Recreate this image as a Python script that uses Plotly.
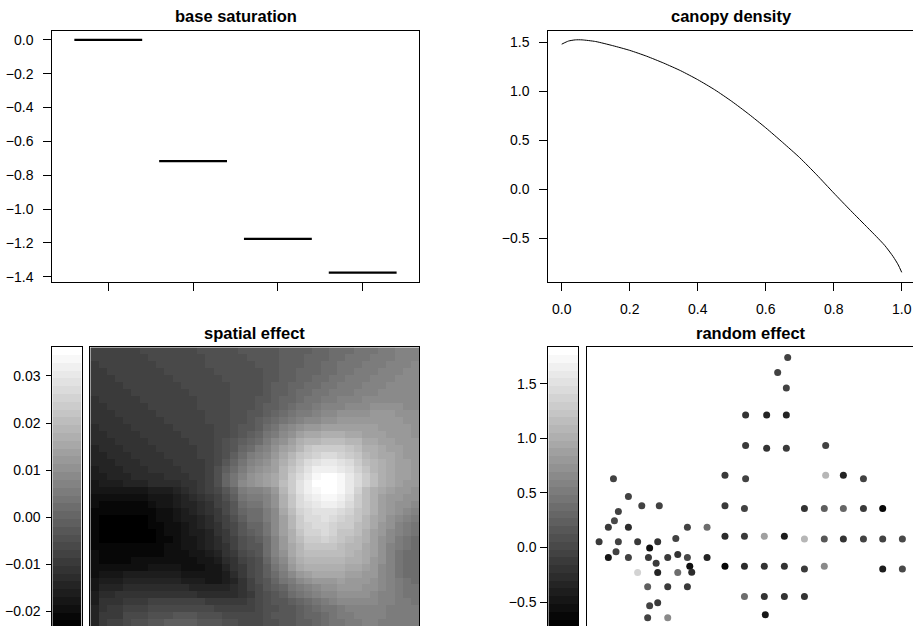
import plotly.graph_objects as go

W, H = 913, 629

# ---------------- data ----------------
base_sat_levels = [1, 2, 3, 4]
base_sat_effect = [0.0, -0.717, -1.176, -1.376]
base_sat_halfwidth = 0.4

canopy_x = [0, 0.02, 0.04, 0.06, 0.1, 0.15, 0.2, 0.25, 0.3, 0.35, 0.4, 0.45, 0.5,
            0.55, 0.6, 0.65, 0.7, 0.75, 0.8, 0.85, 0.9, 0.925, 0.95, 0.975, 0.99, 1.0]
canopy_y = [1.483, 1.515, 1.527, 1.527, 1.510, 1.468, 1.420, 1.360, 1.290, 1.212, 1.121,
            1.018, 0.900, 0.770, 0.630, 0.480, 0.325, 0.150, -0.035, -0.215, -0.390,
            -0.478, -0.570, -0.685, -0.770, -0.845]

spatial_min, spatial_max = -0.0236, 0.0361
spatial_ticks = [-0.02, -0.01, 0.0, 0.01, 0.02, 0.03]
# grey level (0 = black ... 35 = white) of each grid cell, top row first
spatial_grey_levels = [
    [9,9,9,9,9,9,10,10,10,10, 10,10,10,11,11,11,11,11,12,12, 12,12,12,13,13,13,13,14,14,15, 15,15,16,16,16,17,17,18,18,18],
    [9,9,9,9,9,9,9,10,10,10, 10,10,10,10,11,11,11,11,11,12, 12,12,12,13,13,13,14,14,14,15, 15,16,16,16,17,17,17,18,18,18],
    [8,9,9,9,9,9,9,9,10,10, 10,10,10,10,11,11,11,11,11,11, 12,12,12,13,13,13,14,14,15,15, 16,16,16,17,17,17,18,18,18,19],
    [8,8,9,9,9,9,9,9,9,10, 10,10,10,10,10,11,11,11,11,11, 11,12,12,13,13,14,14,14,15,15, 16,16,17,17,17,18,18,18,19,19],
    [8,8,8,9,9,9,9,9,9,9, 10,10,10,10,10,10,11,11,11,11, 11,12,12,13,13,14,14,15,15,16, 16,17,17,17,18,18,18,19,19,19],
    [8,8,8,8,9,9,9,9,9,9, 9,10,10,10,10,10,10,11,11,11, 11,12,13,13,14,14,15,15,16,16, 17,17,17,18,18,18,19,19,19,19],
    [8,8,8,8,8,9,9,9,9,9, 9,9,10,10,10,10,10,11,11,11, 11,12,13,13,14,15,15,16,16,17, 17,17,18,18,18,19,19,19,19,19],
    [7,8,8,8,8,8,9,9,9,9, 9,9,9,10,10,10,10,11,11,11, 12,12,13,14,14,15,16,16,17,17, 18,18,18,19,19,19,19,19,19,19],
    [7,7,8,8,8,8,8,9,9,9, 9,9,9,10,10,10,10,11,11,11, 12,13,13,14,15,16,16,17,18,18, 18,19,19,19,20,20,20,20,19,19],
    [7,7,7,8,8,8,8,8,9,9, 9,9,9,9,10,10,10,11,11,12, 12,13,14,15,16,17,17,18,19,19, 20,20,20,20,21,21,21,20,20,20],
    [7,7,7,7,8,8,8,8,8,9, 9,9,9,9,10,10,10,11,11,12, 13,14,15,16,17,18,19,19,20,20, 21,21,21,21,21,21,21,21,20,20],
    [6,7,7,7,7,8,8,8,8,8, 9,9,9,9,9,10,10,11,12,12, 13,15,16,18,19,20,21,21,22,22, 22,22,22,22,22,21,21,21,21,20],
    [6,6,7,7,7,7,8,8,8,8, 8,9,9,9,9,10,10,11,12,13, 14,16,17,19,20,22,23,23,24,24, 24,23,23,22,22,22,21,21,21,20],
    [6,6,6,7,7,7,7,8,8,8, 8,8,9,9,9,10,11,12,13,14, 15,17,19,20,22,24,25,25,26,26, 26,25,25,23,23,22,22,21,21,21],
    [5,6,6,6,7,7,7,7,8,8, 8,8,8,9,9,10,11,12,14,15, 17,18,20,22,23,25,27,28,28,28, 28,27,26,24,24,23,22,22,21,21],
    [5,5,6,6,6,7,7,7,7,8, 8,8,8,9,9,10,11,13,15,17, 18,19,21,23,25,27,28,29,30,30, 29,28,27,25,24,23,23,22,21,21],
    [5,5,5,6,6,6,7,7,7,7, 8,8,8,8,9,10,12,14,16,18, 19,20,22,24,26,28,30,31,32,32, 31,30,28,26,25,24,23,22,22,21],
    [4,5,5,5,6,6,6,7,7,7, 7,8,8,8,9,11,13,15,17,19, 20,21,22,25,27,29,31,33,33,33, 32,31,29,27,25,24,23,22,22,21],
    [4,4,5,5,5,6,6,6,6,7, 7,7,8,8,9,11,14,16,18,20, 21,22,23,25,28,30,32,34,35,35, 34,32,30,28,26,24,23,22,22,21],
    [3,4,4,4,5,5,5,6,6,6, 6,7,7,8,9,11,14,16,19,20, 21,22,23,26,28,31,33,35,35,35, 34,32,30,28,26,24,23,22,21,21],
    [3,3,3,3,3,3,3,4,4,4, 5,6,7,8,9,10,12,14,17,18, 18,19,21,25,28,31,33,34,35,35, 34,32,29,26,24,23,22,21,21,20],
    [2,2,2,2,2,2,2,3,3,3, 4,5,6,7,8,9,11,13,16,17, 17,18,20,24,27,30,32,33,34,34, 33,31,28,26,24,22,21,21,20,20],
    [2,1,1,1,1,1,1,2,3,3, 4,5,5,6,7,9,10,12,15,16, 16,18,20,24,27,30,31,32,33,33, 32,30,28,26,24,22,21,20,20,19],
    [1,1,1,1,1,1,1,1,2,2, 3,4,5,6,7,8,10,12,14,15, 15,17,19,23,26,29,30,31,31,31, 30,29,27,26,24,22,21,20,19,18],
    [1,0,0,0,0,0,0,1,2,2, 3,4,4,5,6,8,9,11,13,15, 15,17,19,22,25,28,30,30,31,30, 29,28,27,25,23,22,20,19,18,17],
    [1,0,0,0,0,0,0,1,1,2, 2,3,4,5,6,7,9,10,12,14, 14,16,19,22,25,28,29,30,30,29, 28,28,26,25,23,21,20,18,17,16],
    [1,0,0,0,0,0,0,0,1,2, 2,3,4,4,5,7,8,10,12,13, 14,16,19,22,24,27,29,29,30,29, 27,27,26,24,22,21,19,18,17,16],
    [1,0,0,0,0,0,0,0,1,1, 2,3,3,4,5,6,8,9,11,12, 13,15,18,21,24,26,28,28,29,28, 27,26,25,24,22,20,19,17,16,15],
    [1,1,1,1,1,1,1,1,1,2, 2,3,3,4,5,6,7,9,11,12, 12,15,18,21,23,25,27,27,27,27, 26,25,25,23,22,20,18,17,16,15],
    [2,1,1,1,1,1,1,1,1,2, 2,2,3,3,4,5,7,8,10,11, 12,15,18,20,23,25,26,26,26,26, 26,25,24,23,22,20,18,16,15,15],
    [2,1,1,1,1,2,2,2,2,2, 2,2,2,3,3,4,6,7,9,10, 11,14,17,19,22,24,25,25,25,25, 25,24,24,23,21,20,18,16,15,15],
    [2,2,2,2,2,2,2,3,3,3, 3,2,2,2,3,3,5,7,8,10, 11,13,16,18,21,23,24,24,24,24, 24,23,23,22,21,19,18,16,15,15],
    [2,3,3,3,4,4,4,4,4,4, 4,3,3,3,3,3,4,6,8,10, 11,13,15,17,19,21,22,23,23,23, 23,22,22,21,21,19,18,16,15,15],
    [3,4,4,4,5,5,5,5,5,5, 5,4,4,4,3,3,4,5,7,9, 11,12,14,16,17,19,20,21,21,21, 22,21,21,21,20,19,18,17,16,15],
    [3,5,5,5,6,6,6,6,6,6, 6,6,5,5,5,5,5,6,7,9, 10,12,13,14,16,17,18,19,20,20, 21,21,21,20,20,19,18,17,16,16],
    [4,6,6,7,7,7,7,7,7,7, 7,7,7,6,6,6,6,6,7,8, 10,11,12,13,15,16,17,18,19,19, 20,20,20,20,19,18,18,17,16,16],
    [4,7,7,7,8,8,8,9,9,9, 9,9,9,9,8,8,8,8,8,9, 10,11,12,12,13,14,15,16,17,18, 19,19,19,19,19,18,18,17,17,16],
    [5,7,8,8,9,9,9,10,10,10, 10,10,10,10,10,9,9,9,9,9, 10,11,11,12,12,13,14,15,16,16, 17,18,18,18,18,18,17,17,17,17],
    [5,8,8,8,10,10,10,11,11,11, 12,12,12,11,11,11,10,10,10,10, 10,11,12,12,12,13,14,14,15,16, 17,17,18,18,18,18,17,17,17,17],
    [5,8,9,9,10,11,11,12,12,13, 13,13,13,12,12,12,11,11,10,10, 10,11,11,12,12,13,13,14,15,16, 16,17,17,18,18,17,17,17,17,17],
]

re_min, re_max = -0.73, 1.835
re_ticks = [-0.5, 0.0, 0.5, 1.0, 1.5]
re_x = [10.22, 9.71, 10.15, 8.08, 9.15, 10.15, 8.08, 9.15, 10.15, 12.15,
        7.03, 8.08, 12.15, 13.05, 14.07, 7.03, 8.02, 11.07, 12.08, 13.05,
        14.07, 15.05, 7.03, 8.02, 9.03, 10.05, 11.07, 12.08, 13.05, 14.07,
        15.05, 16.05, 7.03, 8.02, 9.03, 10.05, 11.07, 12.08, 15.05, 16.05,
        8.02, 9.03, 10.05, 11.07, 9.08,
        1.36, 2.12, 2.80, 3.69, 1.61, 1.41, 1.10, 2.12, 5.12, 6.12,
        0.63, 1.61, 2.59, 3.61, 4.53, 3.20, 1.49, 1.10, 2.12, 3.14,
        4.12, 4.63, 5.12, 6.12, 3.53, 5.24, 2.59, 3.61, 4.63, 5.34,
        3.10, 4.12, 5.12, 3.61, 3.20, 3.10, 4.12]
re_y = [8.89, 8.40, 7.88, 6.99, 6.99, 6.99, 5.98, 5.89, 5.89, 5.98,
        4.99, 4.88, 4.99, 4.99, 4.88, 3.98, 3.89, 3.89, 3.89, 3.89,
        3.89, 3.89, 2.97, 2.97, 2.97, 2.97, 2.88, 2.88, 2.88, 2.88,
        2.88, 2.88, 1.98, 1.98, 1.98, 1.98, 1.89, 1.98, 1.89, 1.89,
        0.98, 0.98, 0.98, 0.98, 0.37,
        4.88, 4.29, 3.98, 3.98, 3.79, 3.49, 3.27, 3.27, 3.27, 3.27,
        2.79, 2.79, 2.79, 2.79, 2.90, 2.58, 2.46, 2.27, 2.27, 2.27,
        2.27, 2.37, 2.27, 2.27, 2.08, 1.98, 1.77, 1.77, 1.77, 1.78,
        1.30, 1.30, 1.30, 0.77, 0.67, 0.27, 0.27]
re_value = [-0.086, -0.086, -0.046, -0.217, -0.308, -0.308, -0.147, -0.217, -0.147, -0.046,
            -0.147, -0.086, 1.081, -0.308, -0.086, -0.147, -0.086, -0.217, 0.236, 0.276,
            -0.147, -0.629, -0.267, -0.147, 0.879, -0.388, 1.121, 0.175, -0.217, -0.046,
            -0.046, -0.006, -0.599, -0.267, -0.217, -0.217, -0.147, 0.678, -0.388, -0.006,
            0.356, -0.217, -0.217, -0.217, -0.468,
            -0.046, -0.046, -0.086, -0.086, -0.046, -0.006, -0.147, -0.267, -0.086, 0.397,
            -0.147, -0.086, -0.147, -0.217, -0.086, -0.559, -0.046, -0.468, -0.086, -0.147,
            -0.147, -0.217, -0.006, -0.308, -0.147, -0.559, 1.382, -0.308, 0.356, -0.267,
            0.236, -0.147, -0.147, -0.147, -0.086, -0.086, 0.638]

# ---------------- styling helpers ----------------
FONT = "Liberation Sans, Arial, Helvetica, sans-serif"
N_STEPS = 36
greys = [round(i * 255 / (N_STEPS - 1)) for i in range(N_STEPS)]
grey_scale = []
for i, g in enumerate(greys):
    c = f"rgb({g},{g},{g})"
    grey_scale.append([i / N_STEPS, c])
    grey_scale.append([(i + 1) / N_STEPS, c])


def dx(a, b):
    return [a / W, min(b / W, 1.0)]


def dy(top, bottom):
    return [max(1 - bottom / H, 0.0), 1 - top / H]


fig = go.Figure()

# base saturation step segments
seg_x, seg_y = [], []
for lv, ef in zip(base_sat_levels, base_sat_effect):
    seg_x += [lv - base_sat_halfwidth, lv + base_sat_halfwidth, None]
    seg_y += [ef, ef, None]
fig.add_trace(go.Scatter(x=seg_x, y=seg_y, mode="lines", line=dict(color="black", width=2.2),
                         xaxis="x", yaxis="y", hoverinfo="skip", showlegend=False))

# canopy density curve
fig.add_trace(go.Scatter(x=canopy_x, y=canopy_y, mode="lines", line=dict(color="black", width=1, shape="spline", smoothing=0.6),
                         xaxis="x2", yaxis="y2", hoverinfo="skip", showlegend=False))

# spatial effect colour bar (legend strip)
s_step = (spatial_max - spatial_min) / N_STEPS
fig.add_trace(go.Heatmap(z=[[spatial_min + (i + 0.5) * s_step] for i in range(N_STEPS)],
                         x=[0, 1], y=[spatial_min + i * s_step for i in range(N_STEPS + 1)],
                         colorscale=grey_scale, zmin=spatial_min, zmax=spatial_max,
                         showscale=False, xaxis="x3", yaxis="y3", hoverinfo="skip"))

# spatial effect map
nrow = len(spatial_grey_levels)
ncol = len(spatial_grey_levels[0])
spatial_z = [[spatial_min + (lv + 0.5) * s_step for lv in row] for row in spatial_grey_levels]
fig.add_trace(go.Heatmap(z=spatial_z, x=list(range(ncol)), y=list(range(nrow)),
                         colorscale=grey_scale, zmin=spatial_min, zmax=spatial_max,
                         showscale=False, xaxis="x4", yaxis="y4", hoverinfo="skip"))

# random effect colour bar
r_step = (re_max - re_min) / N_STEPS
fig.add_trace(go.Heatmap(z=[[re_min + (i + 0.5) * r_step] for i in range(N_STEPS)],
                         x=[0, 1], y=[re_min + i * r_step for i in range(N_STEPS + 1)],
                         colorscale=grey_scale, zmin=re_min, zmax=re_max,
                         showscale=False, xaxis="x5", yaxis="y5", hoverinfo="skip"))

# random effect points
fig.add_trace(go.Scatter(x=re_x, y=re_y, mode="markers",
                         marker=dict(size=7, color=re_value, colorscale=grey_scale,
                                     cmin=re_min, cmax=re_max, line=dict(width=0)),
                         xaxis="x6", yaxis="y6", hoverinfo="skip", showlegend=False))

tickfont = dict(family=FONT, size=14, color="black")
common = dict(showgrid=False, zeroline=False, linecolor="black", linewidth=1,
              tickcolor="black", tickwidth=1, tickfont=tickfont)

TOP_T, TOP_B = 30.7, 283.3
BOT_T, BOT_B = 349.0, 629.0

layout = dict(
    width=W, height=H, margin=dict(l=0, r=0, t=0, b=0), autosize=False,
    paper_bgcolor="white", plot_bgcolor="white", showlegend=False,
    # base saturation
    xaxis=dict(domain=dx(52.3, 419.0), anchor="y", range=[0.34, 4.664],
               tickvals=base_sat_levels, showticklabels=False, ticks="outside", ticklen=8,
               showline=True, mirror=True, **common),
    yaxis=dict(domain=dy(TOP_T, TOP_B), anchor="x", range=[-1.431, 0.0547],
               tickvals=[0, -0.2, -0.4, -0.6, -0.8, -1.0, -1.2, -1.4], tickformat=".1f",
               ticks="outside", ticklen=8, ticklabelstandoff=7,
               showline=True, mirror=True, **common),
    # canopy density
    xaxis2=dict(domain=dx(548.3, 913.0), anchor="y2", range=[-0.0394, 1.0332],
                tickvals=[0, 0.2, 0.4, 0.6, 0.8, 1.0], tickformat=".1f",
                ticks="outside", ticklen=8, ticklabelstandoff=6,
                showline=True, mirror=True, **common),
    yaxis2=dict(domain=dy(TOP_T, TOP_B), anchor="x2", range=[-0.943, 1.622],
                tickvals=[-0.5, 0, 0.5, 1.0, 1.5], tickformat=".1f",
                ticks="outside", ticklen=8, ticklabelstandoff=7,
                showline=True, mirror=False, **common),
    # spatial colour bar
    xaxis3=dict(domain=dx(52.3, 81.7), anchor="y3", range=[0, 1], side="top",
                showticklabels=False, ticks="", showline=True, **common),
    yaxis3=dict(domain=dy(BOT_T, BOT_B), anchor="x3", range=[-0.02311, 0.03607],
                tickvals=spatial_ticks, tickformat=".2f", ticks="outside", ticklen=5,
                ticklabelstandoff=3, showline=True, mirror=True, **common),
    # spatial map
    xaxis4=dict(domain=dx(90.3, 419.0), anchor="y4", range=[-0.5, ncol - 0.5], side="top",
                showticklabels=False, ticks="", showline=True, **common),
    yaxis4=dict(domain=dy(BOT_T, BOT_B), anchor="x4", range=[nrow - 0.5, -0.5],
                showticklabels=False, ticks="", showline=True, mirror=True, **common),
    # random effect colour bar
    xaxis5=dict(domain=dx(548.3, 578.3), anchor="y5", range=[0, 1], side="top",
                showticklabels=False, ticks="", showline=True, **common),
    yaxis5=dict(domain=dy(BOT_T, BOT_B), anchor="x5", range=[-0.719, 1.835],
                tickvals=re_ticks, tickformat=".1f", ticks="outside", ticklen=7,
                ticklabelstandoff=1, showline=True, mirror=True, **common),
    # random effect points
    xaxis6=dict(domain=dx(586.7, 913.0), anchor="y6", range=[0, 16.59], side="top",
                showticklabels=False, ticks="", showline=True, **common),
    yaxis6=dict(domain=dy(BOT_T, BOT_B), anchor="x6", range=[0, 9.23],
                showticklabels=False, ticks="", showline=True, mirror=False, **common),
)
fig.update_layout(**layout)

titles = [("base saturation", 235.6, 16.0), ("canopy density", 731.7, 16.0),
          ("spatial effect", 254.7, 335.0), ("random effect", 750.8, 335.0)]
for txt, px, py in titles:
    fig.add_annotation(text=f"<b>{txt}</b>", x=px / W, y=1 - py / H, xref="paper", yref="paper",
                       xanchor="center", yanchor="middle", showarrow=False,
                       font=dict(family=FONT, size=16.5, color="black"))

fig.write_html("out.html")
